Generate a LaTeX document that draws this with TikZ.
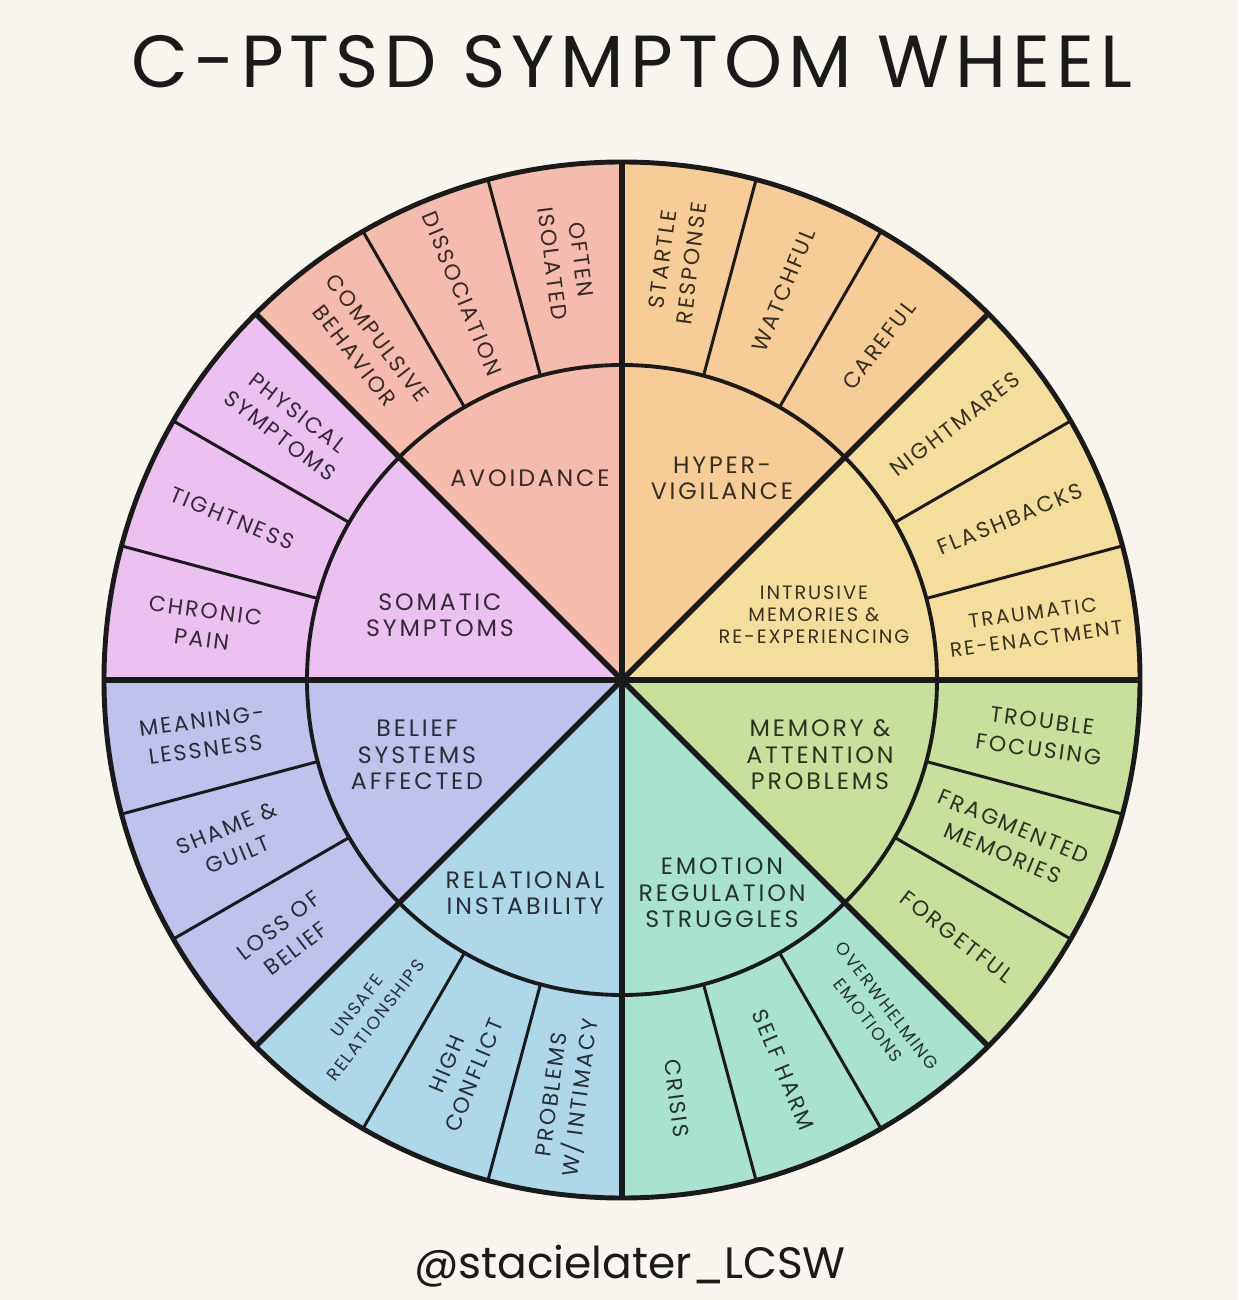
\documentclass[tikz,border=0pt]{standalone}
\usepackage{fontspec}
\setmainfont{Poppins}
\newfontfamily\wheelfont[LetterSpace=10]{Poppins}
\newfontfamily\hubfont[LetterSpace=12]{Poppins}
\newfontfamily\headfont[LetterSpace=8]{Poppins}
\usepackage{xcolor}
\usetikzlibrary{positioning}

\definecolor{paper}{HTML}{F8F4EE}
\definecolor{ink}{HTML}{1A1A1A}
\definecolor{avoid}{HTML}{F5BCAE}
\definecolor{hyper}{HTML}{F7CD97}
\definecolor{intrus}{HTML}{F5DE9C}
\definecolor{memory}{HTML}{C9DF9C}
\definecolor{emotion}{HTML}{A9E2D0}
\definecolor{relation}{HTML}{AFD7EA}
\definecolor{belief}{HTML}{C0C2EE}
\definecolor{somatic}{HTML}{EDC0F2}

\begin{document}
\begin{tikzpicture}[
        x=0.02cm, y=0.02cm,
        every node/.style={align=center, inner sep=0pt},
        cell/.style={text=#1!22!black, font=\wheelfont\fontsize{12.5}{16.5}\selectfont},
        small/.style={font=\wheelfont\fontsize{10}{13.5}\selectfont},
        hub/.style={text=#1!22!black, font=\hubfont\fontsize{13.5}{15}\selectfont},
        major/.style={draw=ink, line width=3.2pt},
        minor/.style={draw=ink, line width=1.7pt},
        rim/.style={draw=ink, line width=2.2pt}
    ]
        \fill[paper] (-622,-620) rectangle (616,680);
        \useasboundingbox (-622,-620) rectangle (616,680);

        % sectors
        \fill[hyper]    (0,0) -- (45:518)  arc[start angle=45,  end angle=90,  radius=518] -- cycle;
        \fill[avoid]    (0,0) -- (90:518)  arc[start angle=90,  end angle=135, radius=518] -- cycle;
        \fill[somatic]  (0,0) -- (135:518) arc[start angle=135, end angle=180, radius=518] -- cycle;
        \fill[belief]   (0,0) -- (180:518) arc[start angle=180, end angle=225, radius=518] -- cycle;
        \fill[relation] (0,0) -- (225:518) arc[start angle=225, end angle=270, radius=518] -- cycle;
        \fill[emotion]  (0,0) -- (270:518) arc[start angle=270, end angle=315, radius=518] -- cycle;
        \fill[memory]   (0,0) -- (315:518) arc[start angle=315, end angle=360, radius=518] -- cycle;
        \fill[intrus]   (0,0) -- (0:518)   arc[start angle=0,   end angle=45,  radius=518] -- cycle;

        \foreach \a in {15,30,60,75,105,120,150,165,195,210,240,255,285,300,330,345}
            \draw[minor] (\a:315) -- (\a:518);
        \draw[rim] (0,0) circle[radius=315];
        \foreach \a in {0,45,...,315}
            \draw[major] (0,0) -- (\a:518);
        \draw[rim, line width=2.8pt] (0,0) circle[radius=518];

        % inner labels
        \node[hub=avoid] (avoidance) at (-92,202) {AVOIDANCE};
        \node[hub=hyper] (hypervig) at (100,202) {HYPER-\\VIGILANCE};
        \node[hub=intrus, font=\wheelfont\fontsize{11}{12.5}\selectfont] (intrusive) at (192,65) {INTRUSIVE\\MEMORIES \&\\RE-EXPERIENCING};
        \node[hub=memory] (memattn) at (198,-75) {MEMORY \&\\ATTENTION\\PROBLEMS};
        \node[hub=emotion] (emoreg) at (100,-213) {EMOTION\\REGULATION\\STRUGGLES};
        \node[hub=relation] (relational) at (-97,-213) {RELATIONAL\\INSTABILITY};
        \node[hub=belief] (beliefsys) at (-205,-75) {BELIEF\\SYSTEMS\\AFFECTED};
        \node[hub=somatic] (somaticsym) at (-182,65) {SOMATIC\\SYMPTOMS};

        % outer cells
        \node[cell=avoid, rotate=-82.5] (isolated) at (97.5:422) {OFTEN\\ISOLATED};
        \node[cell=avoid, rotate=-67.5] (dissoc) at (112.5:418) {DISSOCIATION};
        \node[cell=avoid, rotate=-52.5] (compulsive) at (127.5:420) {COMPULSIVE\\BEHAVIOR};

        \node[cell=hyper, rotate=82.5] (startle) at (82.5:422) {STARTLE\\RESPONSE};
        \node[cell=hyper, rotate=67.5] (watchful) at (67.5:422) {WATCHFUL};
        \node[cell=hyper, rotate=52.5] (careful) at (52.5:422) {CAREFUL};

        \node[cell=intrus, rotate=37.5] (nightmares) at (37.5:420) {NIGHTMARES};
        \node[cell=intrus, rotate=22.5] (flashbacks) at (22.5:420) {FLASHBACKS};
        \node[cell=intrus, rotate=7.5, font=\wheelfont\fontsize{11.5}{15}\selectfont] (reenact) at (7.5:416) {TRAUMATIC\\RE-ENACTMENT};

        \node[cell=memory, rotate=-7.5] (focusing) at (-7.5:422) {TROUBLE\\FOCUSING};
        \node[cell=memory, rotate=-22.5] (fragmented) at (-22.5:418) {FRAGMENTED\\MEMORIES};
        \node[cell=memory, rotate=-37.5] (forgetful) at (-37.5:422) {FORGETFUL};

        \node[cell=emotion, small, rotate=-52.5] (overwhelm) at (-52.5:420) {OVERWHELMING\\EMOTIONS};
        \node[cell=emotion, rotate=-67.5] (selfharm) at (-67.5:422) {SELF HARM};
        \node[cell=emotion, rotate=-82.5] (crisis) at (-82.5:422) {CRISIS};

        \node[cell=relation, rotate=82.5] (intimacy) at (-97.5:420) {PROBLEMS\\W/ INTIMACY};
        \node[cell=relation, rotate=67.5] (conflict) at (-112.5:422) {HIGH\\CONFLICT};
        \node[cell=relation, small, rotate=52.5] (unsafe) at (-127.5:420) {UNSAFE\\RELATIONSHIPS};

        \node[cell=belief, rotate=37.5] (lossbelief) at (-142.5:422) {LOSS OF\\BELIEF};
        \node[cell=belief, rotate=22.5] (shame) at (-157.5:422) {SHAME \&\\GUILT};
        \node[cell=belief, rotate=7.5] (meaning) at (-172.5:422) {MEANING-\\LESSNESS};

        \node[cell=somatic, rotate=-7.5] (chronic) at (172.5:422) {CHRONIC\\PAIN};
        \node[cell=somatic, rotate=-22.5] (tightness) at (157.5:422) {TIGHTNESS};
        \node[cell=somatic, rotate=-37.5] (physical) at (142.5:420) {PHYSICAL\\SYMPTOMS};

        % title and credit
        \node[font=\headfont\fontsize{42}{46}\selectfont, text=ink] (title) at (10,618) {C-PTSD SYMPTOM WHEEL};
        \node[font=\fontsize{25}{28}\selectfont, text=ink] (credit) at (8,-586) {@stacielater\_LCSW};
    \end{tikzpicture}
\end{document}
